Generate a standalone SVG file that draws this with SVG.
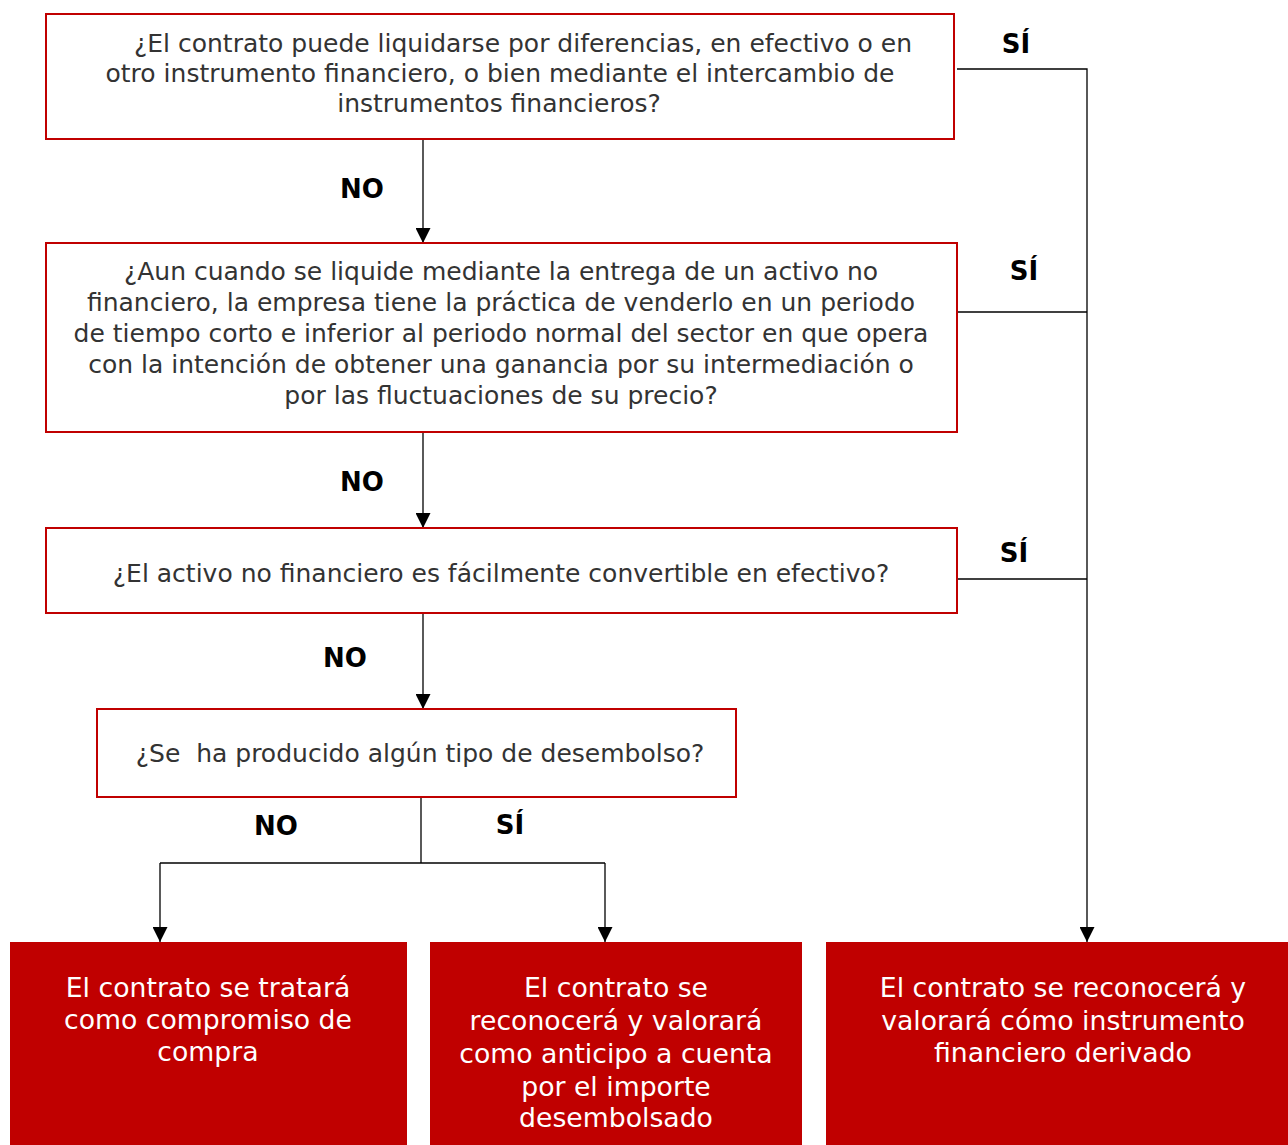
<svg xmlns="http://www.w3.org/2000/svg" width="1288" height="1145" viewBox="0 0 1288 1145">
<defs>
<marker id="arr" viewBox="0 0 10 10" refX="10" refY="5" markerWidth="15" markerHeight="15" markerUnits="userSpaceOnUse" orient="auto">
<path d="M0,0 L10,5 L0,10 z" fill="#000"/>
</marker>
<style>
.q{fill:#fff;stroke:#c00000;stroke-width:2}
.r{fill:#c00000;stroke:none}
.t{font-family:"DejaVu Sans",Verdana,sans-serif;font-size:25px;fill:#333;text-anchor:middle}
.w{font-family:"DejaVu Sans",Verdana,sans-serif;font-size:26.7px;fill:#fff;text-anchor:middle}
.l{font-family:"DejaVu Sans",Verdana,sans-serif;font-size:26px;font-weight:bold;fill:#000;text-anchor:middle}
.c{fill:none;stroke:#000;stroke-width:1.3}
</style>
</defs>
<rect width="1288" height="1145" fill="#fff"/>
<g id="connectors">
<line class="c" x1="423" y1="139" x2="423" y2="243" marker-end="url(#arr)"/>
<line class="c" x1="423" y1="432" x2="423" y2="528" marker-end="url(#arr)"/>
<line class="c" x1="423" y1="613" x2="423" y2="709" marker-end="url(#arr)"/>
<polyline class="c" points="421,797 421,863"/>
<polyline class="c" points="160,863 605,863"/>
<line class="c" x1="160" y1="863" x2="160" y2="942" marker-end="url(#arr)"/>
<line class="c" x1="605" y1="863" x2="605" y2="942" marker-end="url(#arr)"/>
<polyline class="c" points="957,69 1087,69 1087,942" marker-end="url(#arr)"/>
<line class="c" x1="957" y1="312" x2="1087" y2="312"/>
<line class="c" x1="957" y1="579" x2="1087" y2="579"/>
<text class="l" x="1016" y="53">SÍ</text>
<text class="l" x="1024" y="280">SÍ</text>
<text class="l" x="1014" y="562">SÍ</text>
<text class="l" x="510" y="834">SÍ</text>
<text class="l" x="362" y="198">NO</text>
<text class="l" x="362" y="491">NO</text>
<text class="l" x="345" y="667">NO</text>
<text class="l" x="276" y="835">NO</text>
</g>
<g id="q1">
<rect class="q" x="46" y="14" width="908" height="125"/>
<text class="t" x="523" y="52">¿El contrato puede liquidarse por diferencias, en efectivo o en</text>
<text class="t" x="500" y="82">otro instrumento financiero, o bien mediante el intercambio de</text>
<text class="t" x="499" y="112">instrumentos financieros?</text>
</g>
<g id="q2">
<rect class="q" x="46" y="243" width="911" height="189"/>
<text class="t" x="501" y="280">¿Aun cuando se liquide mediante la entrega de un activo no</text>
<text class="t" x="501" y="311">financiero, la empresa tiene la práctica de venderlo en un periodo</text>
<text class="t" x="501" y="342">de tiempo corto e inferior al periodo normal del sector en que opera</text>
<text class="t" x="501" y="373">con la intención de obtener una ganancia por su intermediación o</text>
<text class="t" x="501" y="404">por las fluctuaciones de su precio?</text>
</g>
<g id="q3">
<rect class="q" x="46" y="528" width="911" height="85"/>
<text class="t" x="501" y="582">¿El activo no financiero es fácilmente convertible en efectivo?</text>
</g>
<g id="q4">
<rect class="q" x="97" y="709" width="639" height="88"/>
<text class="t" x="420" y="762" xml:space="preserve">¿Se  ha producido algún tipo de desembolso?</text>
</g>
<g id="r1">
<rect class="r" x="10" y="942" width="397" height="203"/>
<text class="w" x="208" y="997">El contrato se tratará</text>
<text class="w" x="208" y="1029">como compromiso de</text>
<text class="w" x="208" y="1061">compra</text>
</g>
<g id="r2">
<rect class="r" x="430" y="942" width="372" height="203"/>
<text class="w" x="616" y="997">El contrato se</text>
<text class="w" x="616" y="1030">reconocerá y valorará</text>
<text class="w" x="616" y="1063">como anticipo a cuenta</text>
<text class="w" x="616" y="1096">por el importe</text>
<text class="w" x="616" y="1127">desembolsado</text>
</g>
<g id="r3">
<rect class="r" x="826" y="942" width="462" height="203"/>
<text class="w" x="1063" y="997">El contrato se reconocerá y</text>
<text class="w" x="1063" y="1030">valorará cómo instrumento</text>
<text class="w" x="1063" y="1062">financiero derivado</text>
</g>
</svg>
